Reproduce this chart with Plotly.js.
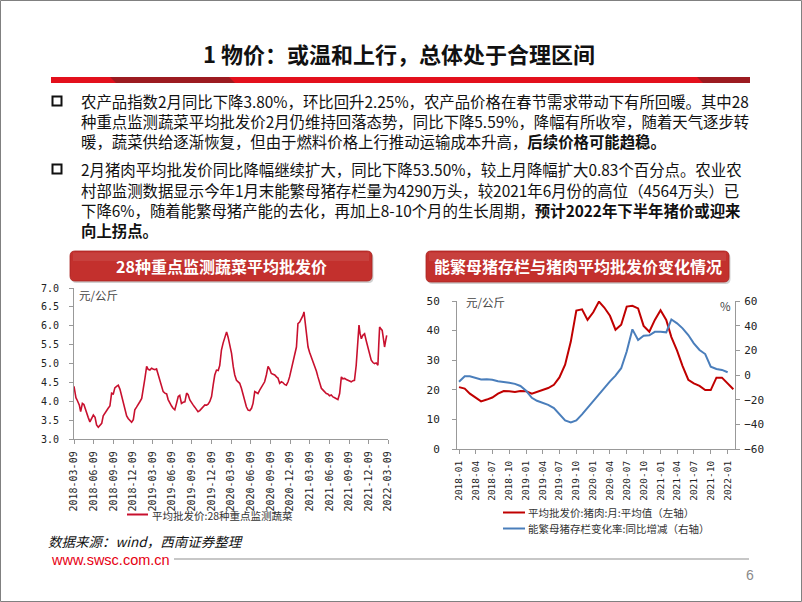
<!DOCTYPE html>
<html><head><meta charset="utf-8">
<script src="https://cdn.plot.ly/plotly-3.0.1.min.js"></script>
<style>html,body{margin:0;padding:0;background:#fff;}#chart{width:802px;height:602px;}</style>
</head><body><div id="chart"></div>
<script>
// ---------- DATA ----------
const vegDates = ['2018-03-09','2018-03-18','2018-03-25','2018-04-03','2018-04-09','2018-04-17','2018-04-24','2018-05-07','2018-05-14','2018-05-22','2018-05-30','2018-06-07','2018-06-15','2018-06-22','2018-06-30','2018-07-08','2018-07-16','2018-07-23','2018-07-31','2018-08-08','2018-08-15','2018-08-23','2018-08-31','2018-09-08','2018-09-15','2018-09-23','2018-10-01','2018-10-09','2018-10-17','2018-10-24','2018-11-01','2018-11-09','2018-11-16','2018-11-24','2018-12-02','2018-12-10','2018-12-17','2018-12-25',
'2019-01-02','2019-01-10','2019-01-18','2019-01-25','2019-02-02','2019-02-10','2019-02-17','2019-02-25','2019-03-05','2019-03-12','2019-03-20','2019-03-28','2019-04-05','2019-04-13','2019-04-21','2019-04-28','2019-05-06','2019-05-14','2019-05-21','2019-05-29','2019-06-06','2019-06-13','2019-06-21','2019-06-29','2019-07-07','2019-07-14','2019-07-22','2019-07-30','2019-08-07','2019-08-15','2019-08-22','2019-08-30','2019-09-07','2019-09-14','2019-09-22','2019-09-30','2019-10-07','2019-10-15','2019-10-23','2019-10-31','2019-11-08','2019-11-16','2019-11-23','2019-12-01','2019-12-09','2019-12-17','2019-12-24',
'2020-01-01','2020-01-09','2020-01-16','2020-01-24','2020-02-01','2020-02-09','2020-02-17','2020-02-24','2020-03-03','2020-03-11','2020-03-19','2020-03-26','2020-04-03','2020-04-10','2020-04-18','2020-04-26','2020-05-04','2020-05-11','2020-05-19','2020-05-27','2020-06-04','2020-06-12','2020-06-19','2020-06-27','2020-07-05','2020-07-12','2020-07-20','2020-07-28','2020-08-05','2020-08-12','2020-08-20','2020-08-28','2020-09-05','2020-09-12','2020-09-20','2020-09-28','2020-10-06','2020-10-13','2020-10-21','2020-10-29','2020-11-05','2020-11-13','2020-11-21','2020-11-29','2020-12-06','2020-12-14','2020-12-22','2020-12-30',
'2021-01-07','2021-01-14','2021-01-22','2021-01-30','2021-02-07','2021-02-11','2021-02-14','2021-02-22','2021-03-02','2021-03-09','2021-03-17','2021-03-25','2021-04-02','2021-04-10','2021-04-17','2021-04-25','2021-05-03','2021-05-11','2021-05-18','2021-05-26','2021-06-02','2021-06-10','2021-06-18','2021-06-26','2021-07-04','2021-07-11','2021-07-19','2021-07-27','2021-08-04','2021-08-11','2021-08-19','2021-08-27','2021-09-03','2021-09-11','2021-09-19','2021-09-27','2021-10-04','2021-10-12','2021-10-20','2021-10-25','2021-10-30','2021-11-05','2021-11-12','2021-11-20','2021-11-28','2021-12-05','2021-12-13','2021-12-21','2021-12-29',
'2022-01-05','2022-01-13','2022-01-21','2022-01-25','2022-01-29','2022-02-04','2022-02-10','2022-02-16','2022-02-21','2022-02-26','2022-03-03'];
const vegPrice = [4.40,4.10,4.02,3.90,3.73,3.95,3.92,3.65,3.58,3.46,3.55,3.64,3.58,3.38,3.32,3.36,3.42,3.62,3.70,3.78,3.82,3.88,4.22,4.20,4.36,4.40,4.43,4.32,4.13,3.95,3.78,3.62,3.55,3.50,3.45,3.52,3.78,3.85,
3.91,4.00,4.08,4.30,4.61,4.93,4.85,4.83,4.88,4.86,4.84,4.86,4.72,4.56,4.40,4.26,4.22,4.20,4.05,3.95,3.88,3.82,3.78,3.95,4.13,4.16,3.95,3.98,3.99,4.22,4.18,4.04,3.96,3.91,3.85,3.78,3.73,3.76,3.82,3.88,3.91,3.90,3.93,4.00,4.13,4.45,4.70,
4.83,4.82,4.95,5.36,5.55,5.72,5.84,5.70,5.50,5.27,4.92,4.70,4.56,4.52,4.48,4.35,4.17,3.98,3.86,3.77,3.76,3.82,3.95,4.26,4.22,4.21,4.30,4.39,4.45,4.52,4.70,4.93,4.85,4.74,4.72,4.70,4.65,4.62,4.48,4.52,4.50,4.45,4.43,4.52,4.65,4.85,5.05,5.25,
5.44,6.06,6.10,6.19,6.28,6.37,6.22,5.90,5.44,5.30,5.18,5.08,4.96,4.80,4.65,4.50,4.35,4.30,4.25,4.21,4.20,4.15,4.17,4.12,4.10,4.08,4.05,4.21,4.65,4.60,4.61,4.58,4.56,4.54,4.52,4.55,4.56,4.95,5.60,6.02,5.80,5.66,5.75,5.79,5.60,5.44,5.25,5.09,5.03,
5.00,5.02,4.96,5.50,5.97,5.92,5.88,5.65,5.44,5.60,5.75];

const porkMonths = ['2018-01','2018-02','2018-03','2018-04','2018-05','2018-06','2018-07','2018-08','2018-09','2018-10','2018-11','2018-12',
'2019-01','2019-02','2019-03','2019-04','2019-05','2019-06','2019-07','2019-08','2019-09','2019-10','2019-11','2019-12',
'2020-01','2020-02','2020-03','2020-04','2020-05','2020-06','2020-07','2020-08','2020-09','2020-10','2020-11','2020-12',
'2021-01','2021-02','2021-03','2021-04','2021-05','2021-06','2021-07','2021-08','2021-09','2021-10','2021-11','2021-12',
'2022-01','2022-02'];
const porkPrice = [20.9,20.4,18.7,17.4,16.1,16.7,17.4,18.7,19.6,19.5,19.3,19.6,
19.5,18.7,19.3,20.2,20.6,21.7,24.2,28.5,36.3,46.8,47.2,43.6,
46.2,49.8,47.8,45.0,40.3,42.0,48.1,48.4,47.5,41.6,39.6,43.6,
46.9,43.6,37.8,33.2,28.0,23.4,22.2,21.3,19.9,19.9,24.1,24.1,
22.0,20.2];
const sowMonths = porkMonths.slice(0, 49);
const sowChange = [-5.4,-1.1,-1.1,-2.1,-3.6,-3.5,-3.8,-5.0,-5.4,-6.2,-7.2,-8.9,
-12.8,-18.5,-20.9,-22.3,-24.2,-26.8,-31.9,-36.8,-38.4,-36.8,-31.9,-26.6,
-20.9,-15.5,-10.2,-5.2,-0.5,5.5,19.0,37.0,28.4,31.9,32.2,35.0,
35.0,34.6,45.0,41.9,37.8,32.4,25.7,20.3,17.0,6.8,4.9,4.1,
2.2];

const slideTitle = '1 物价：或温和上行，总体处于合理区间';
const bulletLines = [
  '农产品指数2月同比下降3.80%，环比回升2.25%，农产品价格在春节需求带动下有所回暖。其中28',
  '种重点监测蔬菜平均批发价2月仍维持回落态势，同比下降5.59%，降幅有所收窄，随着天气逐步转',
  '暖，蔬菜供给逐渐恢复，但由于燃料价格上行推动运输成本升高，<b>后续价格可能趋稳。</b>',
  '2月猪肉平均批发价同比降幅继续扩大，同比下降53.50%，较上月降幅扩大0.83个百分点。农业农',
  '村部监测数据显示今年1月末能繁母猪存栏量为4290万头，较2021年6月份的高位（4564万头）已',
  '下降6%，随着能繁母猪产能的去化，再加上8-10个月的生长周期，<b>预计2022年下半年猪价或迎来</b>',
  '<b>向上拐点。</b>'
];
const leftHeader = '28种重点监测蔬菜平均批发价';
const rightHeader = '能繁母猪存栏与猪肉平均批发价变化情况';
const vegLegend = '平均批发价:28种重点监测蔬菜';
const porkLegend = '平均批发价:猪肉:月:平均值（左轴）';
const sowLegend = '能繁母猪存栏变化率:同比增减（右轴）';
const unitLabel = '元/公斤';
const sourceText = '数据来源：wind，西南证券整理';
const siteText = 'www.swsc.com.cn';
const pageNo = '6';

// ---------- LAYOUT HELPERS ----------
const W = 802, H = 602;
const X = v => v / W;
const Y = v => 1 - v / H;
const CJK = 'Noto Sans CJK SC, sans-serif';
const MONO = 'DejaVu Sans Mono, monospace';

function rrect(x0, y0, x1, y1, r) {
  return `M ${X(x0+r)},${Y(y0)} L ${X(x1-r)},${Y(y0)} Q ${X(x1)},${Y(y0)} ${X(x1)},${Y(y0+r)} ` +
         `L ${X(x1)},${Y(y1-r)} Q ${X(x1)},${Y(y1)} ${X(x1-r)},${Y(y1)} L ${X(x0+r)},${Y(y1)} ` +
         `Q ${X(x0)},${Y(y1)} ${X(x0)},${Y(y1-r)} L ${X(x0)},${Y(y0+r)} Q ${X(x0)},${Y(y0)} ${X(x0+r)},${Y(y0)} Z`;
}
function poly(pts) {
  return 'M ' + pts.map(p => `${X(p[0])},${Y(p[1])}`).join(' L ') + ' Z';
}
const shapes = [];
const ann = [];
function pshape(o) { shapes.push(Object.assign({xref:'paper', yref:'paper'}, o)); }
function rect(x0,y0,x1,y1,fill,line) {
  pshape({type:'rect', x0:X(x0), x1:X(x1), y0:Y(y1), y1:Y(y0), fillcolor:fill||'rgba(0,0,0,0)', line: line || {width:0}});
}
function hline(x0,x1,y,color,w) {
  pshape({type:'line', x0:X(x0), x1:X(x1), y0:Y(y), y1:Y(y), line:{color:color, width:w}});
}
function text(t, x, y, size, color, opts) {
  ann.push(Object.assign({xref:'paper', yref:'paper', x:X(x), y:Y(y), text:t, showarrow:false,
    xanchor:'left', yanchor:'middle', font:{family:CJK, size:size, color:color}, borderpad:0}, opts||{}));
}

// slide border
rect(0.5, 0.5, 801.5, 601.5, null, {color:'#808080', width:1});
// title bar
rect(51, 77, 750, 83, '#e3101c');
pshape({type:'path', path: poly([[110,77],[229,77],[235,83],[116,83]]), fillcolor:'#9c1b20', line:{width:0}});
pshape({type:'path', path: poly([[697,77],[750,77],[750,83],[703,83]]), fillcolor:'#9c1b20', line:{width:0}});
text('<b>' + slideTitle + '</b>', 399, 53, 22, '#111', {xanchor:'center'});

// bullets
rect(52.5, 96.5, 61.5, 105.5, null, {color:'#111', width:2});
rect(52.5, 164.5, 61.5, 173.5, null, {color:'#111', width:2});
const lineY = [101, 121, 141, 169, 190, 210, 230];
bulletLines.forEach((t, i) => text(t, 80, lineY[i], 15.4, '#111'));

// section headers
[[70,251,372,281,leftHeader],[426,251,729,282,rightHeader]].forEach(b => {
  pshape({type:'path', path: rrect(b[0]+1.5,b[1]+2,b[2]+1.5,b[3]+2,5), fillcolor:'rgba(120,120,120,0.35)', line:{width:0}});
  pshape({type:'path', path: rrect(b[0],b[1],b[2],b[3],5), fillcolor:'#c3302d', line:{color:'#a82421', width:0.8}});
  pshape({type:'rect', x0:X(b[0]+3), x1:X(b[2]-3), y0:Y(b[1]+10), y1:Y(b[1]+1.5), fillcolor:'rgba(255,255,255,0.08)', line:{width:0}});
  text('<b>' + b[4] + '</b>', (b[0]+b[2])/2, (b[1]+b[3])/2, 16, '#ffffff', {xanchor:'center'});
});

// chart captions
text(unitLabel, 78, 295, 11.5, '#444');
text(unitLabel, 465, 302, 11.5, '#444');
text('%', 719, 306, 11.5, '#444');

// legends
hline(127, 148, 514.5, '#c8102e', 2);
text(vegLegend, 151, 515, 10.5, '#333');
hline(503, 525, 512.5, '#c00000', 2);
text(porkLegend, 527, 512.5, 10.5, '#333');
hline(503, 525, 528.5, '#4a7ebb', 2);
text(sowLegend, 527, 528.5, 10.5, '#333');

// footer
text('<i>' + sourceText + '</i>', 47, 541, 13.5, '#111');
text(siteText, 50, 560, 14.5, '#e60012', {font:{family:'Liberation Sans, Arial, sans-serif', size:14.5, color:'#e60012'}});
hline(174, 749, 559, '#b5b5b5', 1.5);
text(pageNo, 750, 575, 14, '#8a8a8a', {xanchor:'center', font:{family:'Liberation Sans, Arial, sans-serif', size:14, color:'#8a8a8a'}});

// ---------- TRACES ----------
const traces = [
  {type:'scatter', mode:'lines', x:vegDates, y:vegPrice, xaxis:'x', yaxis:'y',
   line:{color:'#c8102e', width:1.6}, hoverinfo:'skip'},
  {type:'scatter', mode:'lines', x:porkMonths, y:porkPrice, xaxis:'x2', yaxis:'y2',
   line:{color:'#c00000', width:2}, hoverinfo:'skip'},
  {type:'scatter', mode:'lines', x:sowMonths, y:sowChange, xaxis:'x2', yaxis:'y3',
   line:{color:'#4a7ebb', width:2}, hoverinfo:'skip'}
];

const axCommon = {showgrid:false, zeroline:false, showline:true, linecolor:'#999', linewidth:1,
  ticks:'outside', ticklen:4, tickcolor:'#999', fixedrange:true};

const layout = {
  width:W, height:H, margin:{l:0,r:0,t:0,b:0}, paper_bgcolor:'#fff', plot_bgcolor:'rgba(0,0,0,0)',
  showlegend:false, shapes:shapes, annotations:ann,
  xaxis: Object.assign({}, axCommon, {domain:[X(74), X(388)], anchor:'y', type:'date',
    range:['2018-03-09','2022-03-09'], tick0:'2018-03-09', dtick:'M3', tickformat:'%Y-%m-%d',
    tickangle:-90, tickfont:{family:MONO, size:10, color:'#222'}, ticklabelstandoff:3}),
  yaxis: Object.assign({}, axCommon, {domain:[Y(439.3), Y(288)], anchor:'x', range:[3,7], dtick:0.5,
    tickformat:'.1f', tickfont:{family:MONO, size:10, color:'#222'}, ticklabelstandoff:8}),
  xaxis2: Object.assign({}, axCommon, {domain:[X(457), X(735)], anchor:'y2', type:'date',
    range:['2017-12-21','2022-02-10'], tick0:'2018-01-01', dtick:'M3', tickformat:'%Y-%m',
    tickangle:-90, tickfont:{family:MONO, size:9.5, color:'#222'}, ticklabelstandoff:3}),
  yaxis2: Object.assign({}, axCommon, {domain:[Y(449), Y(301)], anchor:'x2', range:[0,50], dtick:10,
    tickfont:{family:MONO, size:11, color:'#222'}, ticklabelstandoff:10}),
  yaxis3: Object.assign({}, axCommon, {overlaying:'y2', anchor:'x2', side:'right', range:[-60,60], dtick:20,
    tickfont:{family:MONO, size:11, color:'#222'}, ticklabelstandoff:2})
};

Plotly.newPlot('chart', traces, layout, {staticPlot:true, displayModeBar:false});
</script></body></html>
